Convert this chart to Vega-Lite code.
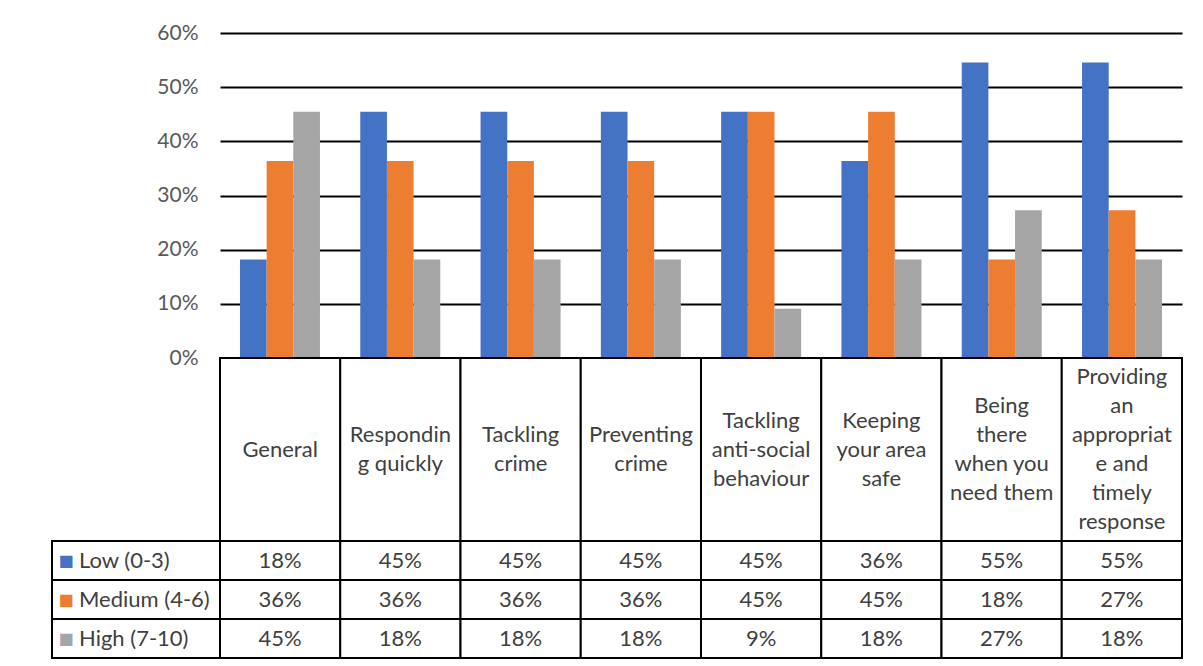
{
  "$schema": "https://vega.github.io/schema/vega-lite/v6.json",
  "background": "white",
  "padding": {"left": 51, "top": 22, "right": 10, "bottom": 5},
  "config": {
    "view": {"stroke": null},
    "font": "Lato",
    "axis": {"labelFont": "Lato"}
  },
  "datasets": {
    "vals": [
      {"category": "General", "series": "Low (0-3)", "value": 0.1818},
      {"category": "General", "series": "Medium (4-6)", "value": 0.3636},
      {"category": "General", "series": "High (7-10)", "value": 0.4545},
      {"category": "Responding quickly", "series": "Low (0-3)", "value": 0.4545},
      {"category": "Responding quickly", "series": "Medium (4-6)", "value": 0.3636},
      {"category": "Responding quickly", "series": "High (7-10)", "value": 0.1818},
      {"category": "Tackling crime", "series": "Low (0-3)", "value": 0.4545},
      {"category": "Tackling crime", "series": "Medium (4-6)", "value": 0.3636},
      {"category": "Tackling crime", "series": "High (7-10)", "value": 0.1818},
      {"category": "Preventing crime", "series": "Low (0-3)", "value": 0.4545},
      {"category": "Preventing crime", "series": "Medium (4-6)", "value": 0.3636},
      {"category": "Preventing crime", "series": "High (7-10)", "value": 0.1818},
      {"category": "Tackling anti-social behaviour", "series": "Low (0-3)", "value": 0.4545},
      {"category": "Tackling anti-social behaviour", "series": "Medium (4-6)", "value": 0.4545},
      {"category": "Tackling anti-social behaviour", "series": "High (7-10)", "value": 0.0909},
      {"category": "Keeping your area safe", "series": "Low (0-3)", "value": 0.3636},
      {"category": "Keeping your area safe", "series": "Medium (4-6)", "value": 0.4545},
      {"category": "Keeping your area safe", "series": "High (7-10)", "value": 0.1818},
      {"category": "Being there when you need them", "series": "Low (0-3)", "value": 0.5455},
      {"category": "Being there when you need them", "series": "Medium (4-6)", "value": 0.1818},
      {"category": "Being there when you need them", "series": "High (7-10)", "value": 0.2727},
      {"category": "Providing an appropriate and timely response", "series": "Low (0-3)", "value": 0.5455},
      {"category": "Providing an appropriate and timely response", "series": "Medium (4-6)", "value": 0.2727},
      {"category": "Providing an appropriate and timely response", "series": "High (7-10)", "value": 0.1818}
    ],
    "cats": [
      {"category": "General", "label": "General"},
      {"category": "Responding quickly", "label": "Respondin\ng quickly"},
      {"category": "Tackling crime", "label": "Tackling\ncrime"},
      {"category": "Preventing crime", "label": "Preventing\ncrime"},
      {"category": "Tackling anti-social behaviour", "label": "Tackling\nanti-social\nbehaviour"},
      {"category": "Keeping your area safe", "label": "Keeping\nyour area\nsafe"},
      {"category": "Being there when you need them", "label": "Being\nthere\nwhen you\nneed them"},
      {"category": "Providing an appropriate and timely response", "label": "Providing\nan\nappropriat\ne and\ntimely\nresponse"}
    ],
    "series": [
      {"series": "Low (0-3)"},
      {"series": "Medium (4-6)"},
      {"series": "High (7-10)"}
    ]
  },
  "columns": 2,
  "spacing": 0,
  "bounds": "flush",
  "align": "each",
  "resolve": {"scale": {"x": "independent", "y": "independent", "color": "shared"}},
  "concat": [
    {
      "width": 168,
      "height": 325,
      "data": {"values": []},
      "mark": "text"
    },
    {
      "width": 962,
      "height": 325,
      "data": {"name": "vals"},
      "mark": {"type": "bar"},
      "encoding": {
        "x": {
          "field": "category",
          "type": "nominal",
          "sort": ["General", "Responding quickly", "Tackling crime", "Preventing crime", "Tackling anti-social behaviour", "Keeping your area safe", "Being there when you need them", "Providing an appropriate and timely response"],
          "axis": null,
          "scale": {"paddingInner": 0.335, "paddingOuter": 0.166}
        },
        "xOffset": {
          "field": "series",
          "type": "nominal",
          "sort": ["Low (0-3)", "Medium (4-6)", "High (7-10)"],
          "scale": {"paddingInner": 0, "paddingOuter": 0}
        },
        "y": {
          "field": "value",
          "type": "quantitative",
          "scale": {"domain": [0, 0.6], "nice": false},
          "axis": {
            "format": ".0%",
            "values": [0, 0.1, 0.2, 0.3, 0.4, 0.5, 0.6],
            "title": null,
            "domain": false,
            "ticks": false,
            "grid": true,
            "gridColor": "#000000",
            "gridWidth": 2,
            "gridOpacity": 1,
            "labelFontSize": 21,
            "labelColor": "#595959",
            "labelPadding": 22
          }
        },
        "color": {
          "field": "series",
          "type": "nominal",
          "scale": {"domain": ["Low (0-3)", "Medium (4-6)", "High (7-10)"], "range": ["#4472C4", "#ED7D31", "#A5A5A5"]},
          "legend": null
        }
      }
    },
    {
      "width": 168,
      "height": 183,
      "data": {"values": []},
      "mark": "text"
    },
    {
      "width": 962,
      "height": 183,
      "data": {"name": "cats"},
      "encoding": {
        "x": {
          "field": "category",
          "type": "nominal",
          "sort": ["General", "Responding quickly", "Tackling crime", "Preventing crime", "Tackling anti-social behaviour", "Keeping your area safe", "Being there when you need them", "Providing an appropriate and timely response"],
          "axis": null,
          "scale": {"paddingInner": 0, "paddingOuter": 0}
        }
      },
      "layer": [
        {"mark": {"type": "rect", "fill": "white", "stroke": "#000000", "strokeWidth": 2}},
        {
          "transform": [{"filter": {"field": "category", "oneOf": ["General"]}}],
          "mark": {"type": "text", "lineBreak": "\n", "fontSize": 22, "lineHeight": 29, "color": "#404040", "baseline": "middle"},
          "encoding": {"text": {"field": "label", "type": "nominal"}}
        },
        {
          "transform": [{"filter": {"field": "category", "oneOf": ["Responding quickly", "Tackling crime", "Preventing crime"]}}],
          "mark": {"type": "text", "lineBreak": "\n", "fontSize": 22, "lineHeight": 29, "color": "#404040", "baseline": "middle", "dy": -14.5},
          "encoding": {"text": {"field": "label", "type": "nominal"}}
        },
        {
          "transform": [{"filter": {"field": "category", "oneOf": ["Tackling anti-social behaviour", "Keeping your area safe"]}}],
          "mark": {"type": "text", "lineBreak": "\n", "fontSize": 22, "lineHeight": 29, "color": "#404040", "baseline": "middle", "dy": -29},
          "encoding": {"text": {"field": "label", "type": "nominal"}}
        },
        {
          "transform": [{"filter": {"field": "category", "oneOf": ["Being there when you need them"]}}],
          "mark": {"type": "text", "lineBreak": "\n", "fontSize": 22, "lineHeight": 29, "color": "#404040", "baseline": "middle", "dy": -43.5},
          "encoding": {"text": {"field": "label", "type": "nominal"}}
        },
        {
          "transform": [{"filter": {"field": "category", "oneOf": ["Providing an appropriate and timely response"]}}],
          "mark": {"type": "text", "lineBreak": "\n", "fontSize": 22, "lineHeight": 29, "color": "#404040", "baseline": "middle", "dy": -72.5},
          "encoding": {"text": {"field": "label", "type": "nominal"}}
        }
      ]
    },
    {
      "width": 168,
      "height": 117,
      "data": {"name": "series"},
      "encoding": {
        "y": {
          "field": "series",
          "type": "nominal",
          "sort": ["Low (0-3)", "Medium (4-6)", "High (7-10)"],
          "axis": null,
          "scale": {"paddingInner": 0, "paddingOuter": 0}
        }
      },
      "layer": [
        {"mark": {"type": "rect", "fill": "white", "stroke": "#000000", "strokeWidth": 2}},
        {
          "mark": {"type": "text", "text": "■", "font": "DejaVu Sans", "fontSize": 16, "dx": -70, "baseline": "middle"},
          "encoding": {
            "color": {
              "field": "series",
              "type": "nominal",
              "scale": {"domain": ["Low (0-3)", "Medium (4-6)", "High (7-10)"], "range": ["#4472C4", "#ED7D31", "#A5A5A5"]},
              "legend": null
            }
          }
        },
        {
          "mark": {"type": "text", "align": "left", "dx": -57, "fontSize": 22, "color": "#404040", "baseline": "middle"},
          "encoding": {"text": {"field": "series", "type": "nominal"}}
        }
      ]
    },
    {
      "width": 962,
      "height": 117,
      "data": {"name": "vals"},
      "encoding": {
        "x": {
          "field": "category",
          "type": "nominal",
          "sort": ["General", "Responding quickly", "Tackling crime", "Preventing crime", "Tackling anti-social behaviour", "Keeping your area safe", "Being there when you need them", "Providing an appropriate and timely response"],
          "axis": null,
          "scale": {"paddingInner": 0, "paddingOuter": 0}
        },
        "y": {
          "field": "series",
          "type": "nominal",
          "sort": ["Low (0-3)", "Medium (4-6)", "High (7-10)"],
          "axis": null,
          "scale": {"paddingInner": 0, "paddingOuter": 0}
        }
      },
      "layer": [
        {"mark": {"type": "rect", "fill": "white", "stroke": "#000000", "strokeWidth": 2}},
        {
          "mark": {"type": "text", "fontSize": 22, "color": "#404040", "baseline": "middle"},
          "encoding": {"text": {"field": "value", "type": "quantitative", "format": ".0%"}}
        }
      ]
    }
  ]
}
